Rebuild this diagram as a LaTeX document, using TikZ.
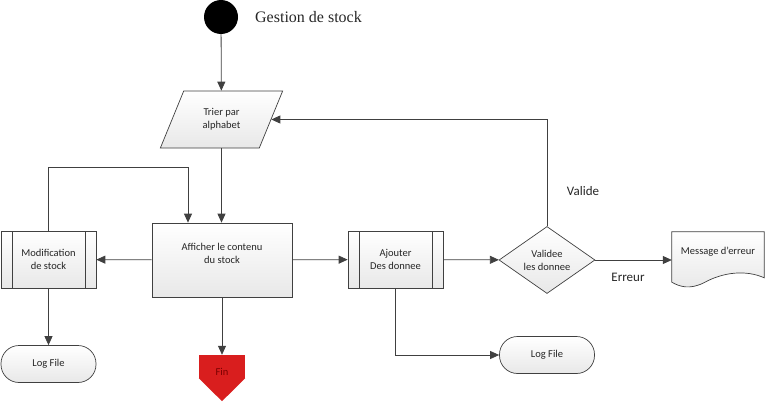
\documentclass[tikz,border=0pt]{standalone}
\usepackage{fontspec}
\setmainfont{Carlito}
\newfontfamily\titlefont{Liberation Serif}
\usepackage{tikz}
\usetikzlibrary{shapes.geometric, arrows.meta, positioning, calc}
\definecolor{linegray}{HTML}{404040}
\definecolor{finred}{HTML}{D91E1E}
\definecolor{fintext}{HTML}{7A0000}

\begin{document}
\begin{tikzpicture}[
    x=1pt, y=-1pt,
    every node/.style={font=\fontsize{10.5}{13}\selectfont, align=center, text=black!85},
    shade box/.style={draw=linegray, line width=0.7pt, top color=white, bottom color=gray!18},
    box/.style={shade box, rectangle, minimum width=140pt, minimum height=74pt, inner sep=2pt},
    proc/.style={shade box, rectangle, minimum width=95pt, minimum height=57pt, inner sep=2pt,
        path picture={
            \draw[linegray, line width=0.7pt] ([xshift=11pt]path picture bounding box.north west) -- ([xshift=11pt]path picture bounding box.south west);
            \draw[linegray, line width=0.7pt] ([xshift=-11pt]path picture bounding box.north east) -- ([xshift=-11pt]path picture bounding box.south east);
        }},
    io/.style={shade box, trapezium, trapezium left angle=62, trapezium right angle=118, trapezium stretches=true, minimum width=123pt, minimum height=57pt, inner sep=0pt},
    term/.style={shade box, rectangle, rounded corners=18pt, minimum width=95pt, minimum height=37pt},
    decide/.style={shade box, diamond, minimum width=96pt, minimum height=56pt, inner sep=0pt},
    arr/.style={draw=linegray, line width=0.8pt, -{Triangle[length=9pt, width=8pt]}},
    lbl/.style={font=\fontsize{13}{15}\selectfont},
]
    \useasboundingbox (0,0) rectangle (769,404);

    \node[circle, fill=black, minimum size=34pt, inner sep=0pt] (start) at (221, 17) {};
    \node[font=\titlefont\fontsize{16}{18}\selectfont] (title) at (308.5, 17) {Gestion de stock};

    \node[io] (sort) at (221.5, 119.5) {Trier par\\alphabet};
    \node[box] (show) at (222, 260) {Afficher le contenu\\du stock\\[0pt]\mbox{}};
    \node[proc] (mod) at (48.5, 259.5) {Modification\\de stock};
    \node[term] (log1) at (48.5, 364) {Log File};
    \node[rectangle, fill=finred, minimum width=46pt, minimum height=23pt, inner sep=0pt,
        text height=18pt, text depth=0pt, text=fintext] (fin) at (222, 366.5) {Fin};
    \fill[finred] (fin.south west) -- (fin.south east) -- ($(fin.south)+(0,23)$) -- cycle;

    \node[proc] (add) at (395.5, 259.5) {Ajouter\\Des donnee};
    \node[decide] (check) at (547, 260) {Validee\\les donnee};
    \node[term] (log2) at (547, 355) {Log File};

    \node[minimum width=92pt, minimum height=50pt, inner sep=0pt] (msg) at (718, 257) {};
    \draw[shade box] (msg.north west) -- (msg.north east) -- ($(msg.north east)+(0,46)$)
        .. controls ($(msg.north east)+(-18,38)$) and ($(msg.north west)+(52,40)$) .. ($(msg.north west)+(32,51)$)
        .. controls ($(msg.north west)+(18,58)$) and ($(msg.north west)+(8,55)$) .. ($(msg.south west)$) -- cycle;
    \node (msgtext) at (718, 252) {Message d’erreur};

    \coordinate (turn) at (188, 167);

    \draw[arr] (start) -- (sort);
    \draw[arr] (sort.south) -- (sort.south |- show.north);
    \draw[arr] (show) -- (mod);
    \draw[arr] (mod.north) |- (turn) -- (turn |- show.north);
    \draw[arr] (mod) -- (log1);
    \draw[arr] (show) -- (fin);
    \draw[arr] (show) -- (add);
    \draw[arr] (add) -- (check);
    \draw[arr] (add.south) |- (log2);
    \draw[arr] (check.north) |- (sort.east);
    \draw[arr] (check.east) -- (check.east -| msg.west);

    \node[lbl] (valide) at (583, 191) {Valide};
    \node[lbl] (erreur) at (628, 277) {Erreur};
\end{tikzpicture}
\end{document}
